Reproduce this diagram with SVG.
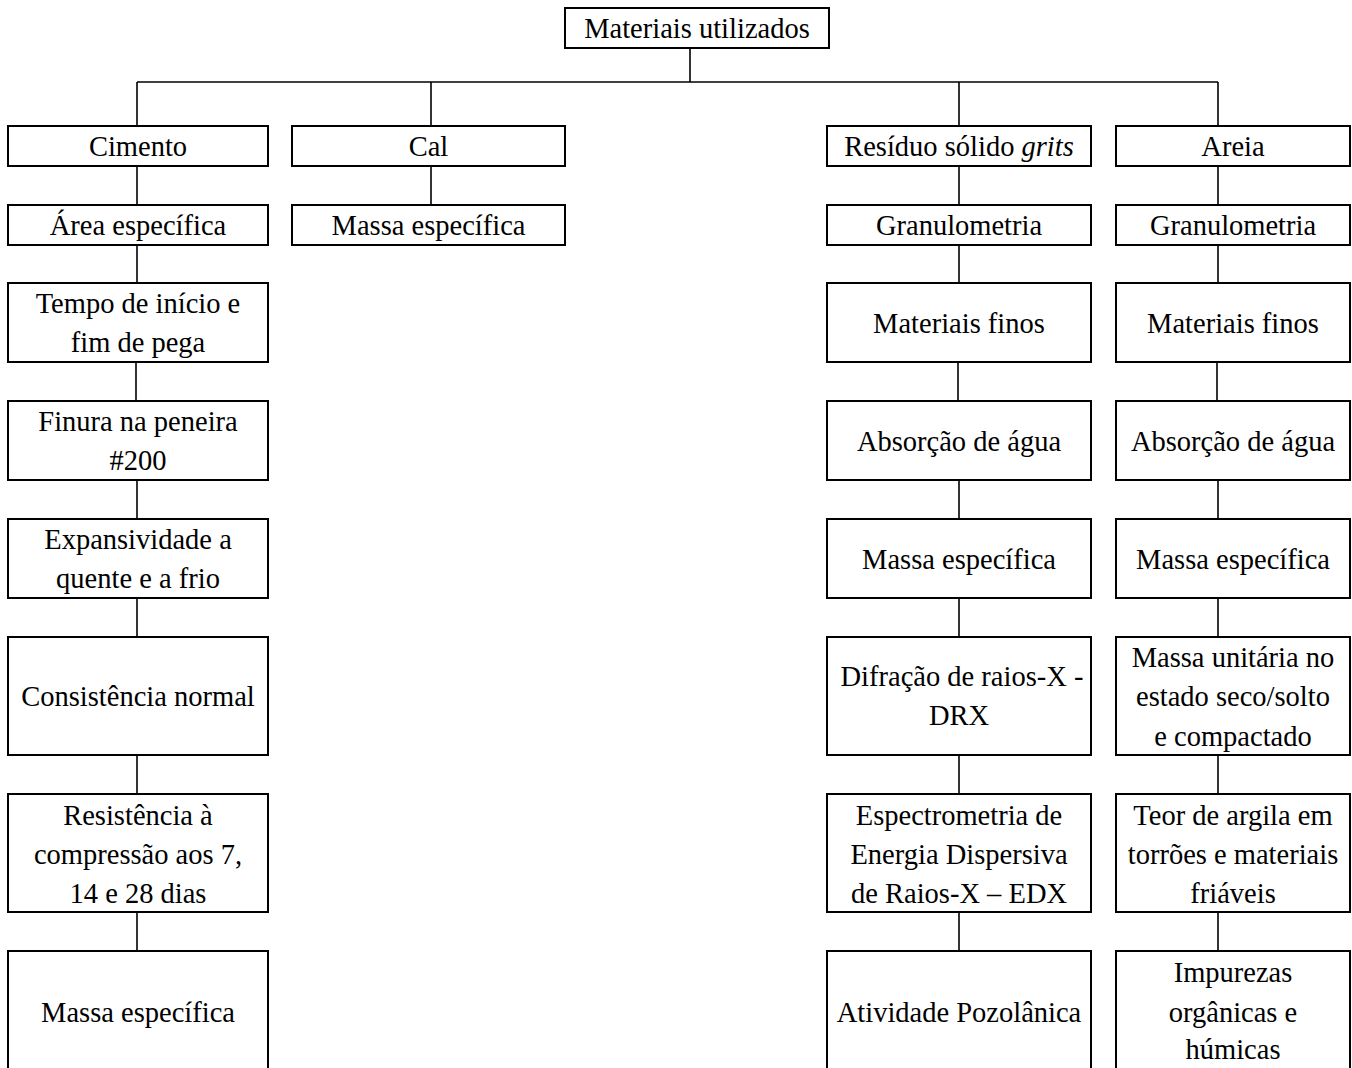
<svg xmlns="http://www.w3.org/2000/svg" width="1352" height="1068" viewBox="0 0 1352 1068">
<style>
rect.b{fill:#fff;stroke:#000;stroke-width:2}
text{font-family:"Liberation Serif","Times New Roman",serif;font-size:28.5px;fill:#000;text-anchor:middle}
.c line{stroke:#000;stroke-width:1.6}
</style>
<rect x="0" y="0" width="1352" height="1068" fill="#fff"/>
<g class="c" id="connectors">
<line x1="690" y1="48" x2="690" y2="82"/>
<line x1="137" y1="82" x2="1218" y2="82"/>
<line x1="137" y1="82" x2="137" y2="126"/>
<line x1="431" y1="82" x2="431" y2="126"/>
<line x1="959" y1="82" x2="959" y2="126"/>
<line x1="1218" y1="82" x2="1218" y2="126"/>
<line x1="137" y1="166" x2="137" y2="205"/>
<line x1="137" y1="245" x2="137" y2="283"/>
<line x1="136" y1="362" x2="136" y2="401"/>
<line x1="137" y1="480" x2="137" y2="519"/>
<line x1="137" y1="598" x2="137" y2="637"/>
<line x1="137" y1="755" x2="137" y2="794"/>
<line x1="137" y1="912" x2="137" y2="951"/>
<line x1="431" y1="166" x2="431" y2="205"/>
<line x1="959" y1="166" x2="959" y2="205"/>
<line x1="959" y1="245" x2="959" y2="283"/>
<line x1="958" y1="362" x2="958" y2="401"/>
<line x1="959" y1="480" x2="959" y2="519"/>
<line x1="959" y1="598" x2="959" y2="637"/>
<line x1="959" y1="755" x2="959" y2="794"/>
<line x1="959" y1="912" x2="959" y2="951"/>
<line x1="1218" y1="166" x2="1218" y2="205"/>
<line x1="1218" y1="245" x2="1218" y2="283"/>
<line x1="1217" y1="362" x2="1217" y2="401"/>
<line x1="1218" y1="480" x2="1218" y2="519"/>
<line x1="1218" y1="598" x2="1218" y2="637"/>
<line x1="1218" y1="755" x2="1218" y2="794"/>
<line x1="1218" y1="912" x2="1218" y2="951"/>
</g>
<g id="root"><rect class="b" x="565" y="8" width="264" height="40"/><text x="697" y="38">Materiais utilizados</text></g>

<g id="cimento"><rect class="b" x="8" y="126" width="260" height="40"/><text x="138" y="156">Cimento</text></g>
<g id="c-area"><rect class="b" x="8" y="205" width="260" height="40"/><text x="138" y="235">Área específica</text></g>
<g id="c-tempo"><rect class="b" x="8" y="283" width="260" height="79"/><text x="138" y="313">Tempo de início e</text><text x="138" y="352">fim de pega</text></g>
<g id="c-finura"><rect class="b" x="8" y="401" width="260" height="79"/><text x="138" y="431">Finura na peneira</text><text x="138" y="470">#200</text></g>
<g id="c-exp"><rect class="b" x="8" y="519" width="260" height="79"/><text x="138" y="549">Expansividade a</text><text x="138" y="588">quente e a frio</text></g>
<g id="c-cons"><rect class="b" x="8" y="637" width="260" height="118"/><text x="138" y="706">Consistência normal</text></g>
<g id="c-res"><rect class="b" x="8" y="794" width="260" height="118"/><text x="138" y="825">Resistência à</text><text x="138" y="864">compressão aos 7,</text><text x="138" y="903">14 e 28 dias</text></g>
<g id="c-massa"><rect class="b" x="8" y="951" width="260" height="122"/><text x="138" y="1022">Massa específica</text></g>

<g id="cal"><rect class="b" x="292" y="126" width="273" height="40"/><text x="428.5" y="156">Cal</text></g>
<g id="cal-massa"><rect class="b" x="292" y="205" width="273" height="40"/><text x="428.5" y="235">Massa específica</text></g>

<g id="residuo"><rect class="b" x="827" y="126" width="264" height="40"/><text x="959" y="156">Resíduo sólido <tspan font-style="italic">grits</tspan></text></g>
<g id="r-gran"><rect class="b" x="827" y="205" width="264" height="40"/><text x="959" y="235">Granulometria</text></g>
<g id="r-finos"><rect class="b" x="827" y="283" width="264" height="79"/><text x="959" y="333">Materiais finos</text></g>
<g id="r-abs"><rect class="b" x="827" y="401" width="264" height="79"/><text x="959" y="451">Absorção de água</text></g>
<g id="r-massa"><rect class="b" x="827" y="519" width="264" height="79"/><text x="959" y="569">Massa específica</text></g>
<g id="r-drx"><rect class="b" x="827" y="637" width="264" height="118"/><text x="962" y="686">Difração de raios-X -</text><text x="959" y="725">DRX</text></g>
<g id="r-edx"><rect class="b" x="827" y="794" width="264" height="118"/><text x="959" y="825">Espectrometria de</text><text x="959" y="864">Energia Dispersiva</text><text x="959" y="903">de Raios-X – EDX</text></g>
<g id="r-poz"><rect class="b" x="827" y="951" width="264" height="122"/><text x="959" y="1022">Atividade Pozolânica</text></g>

<g id="areia"><rect class="b" x="1116" y="126" width="234" height="40"/><text x="1233" y="156">Areia</text></g>
<g id="a-gran"><rect class="b" x="1116" y="205" width="234" height="40"/><text x="1233" y="235">Granulometria</text></g>
<g id="a-finos"><rect class="b" x="1116" y="283" width="234" height="79"/><text x="1233" y="333">Materiais finos</text></g>
<g id="a-abs"><rect class="b" x="1116" y="401" width="234" height="79"/><text x="1233" y="451">Absorção de água</text></g>
<g id="a-massa"><rect class="b" x="1116" y="519" width="234" height="79"/><text x="1233" y="569">Massa específica</text></g>
<g id="a-unit"><rect class="b" x="1116" y="637" width="234" height="118"/><text x="1233" y="667">Massa unitária no</text><text x="1233" y="706">estado seco/solto</text><text x="1233" y="746">e compactado</text></g>
<g id="a-teor"><rect class="b" x="1116" y="794" width="234" height="118"/><text x="1233" y="825">Teor de argila em</text><text x="1233" y="864">torrões e materiais</text><text x="1233" y="903">friáveis</text></g>
<g id="a-imp"><rect class="b" x="1116" y="951" width="234" height="122"/><text x="1233" y="982">Impurezas</text><text x="1233" y="1022">orgânicas e</text><text x="1233" y="1059">húmicas</text></g>
</svg>
